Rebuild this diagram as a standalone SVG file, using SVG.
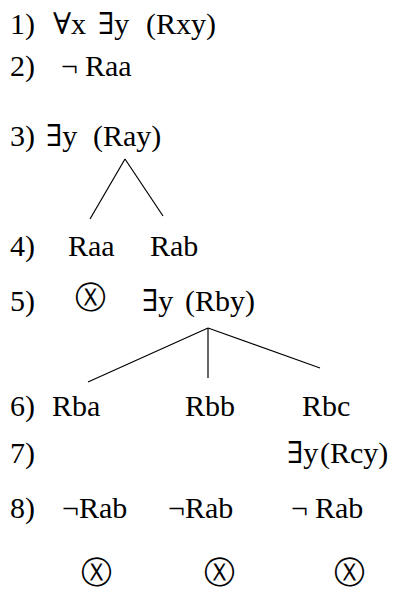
<svg xmlns="http://www.w3.org/2000/svg" width="405" height="589" viewBox="0 0 405 589">
<rect width="405" height="589" fill="#fff"/>
<g font-family="Liberation Serif, Times New Roman, Tinos, Noto Serif, DejaVu Serif, serif" font-size="30" fill="#000">
<g id="labels">
<text x="10" y="34">1)</text>
<text x="10" y="76">2)</text>
<text x="10" y="146">3)</text>
<text x="10" y="256">4)</text>
<text x="10" y="311">5)</text>
<text x="10" y="416">6)</text>
<text x="10" y="463">7)</text>
<text x="10" y="518">8)</text>
</g>
<g id="n1"><text x="53" y="34">∀x</text><text x="98" y="34">∃y</text><text x="146" y="34">(Rxy)</text></g>
<g id="n2"><text x="61" y="76">¬</text><text x="85" y="76">Raa</text></g>
<g id="n3"><text x="46" y="146">∃y</text><text x="93" y="146">(Ray)</text></g>
<g id="n4a"><text x="68" y="256">Raa</text></g>
<g id="n4b"><text x="150" y="256">Rab</text></g>
<g id="n5b"><text x="142" y="311">∃y</text><text x="185" y="311">(Rby)</text></g>
<g id="n6a"><text x="52" y="416">Rba</text></g>
<g id="n6b"><text x="185" y="416">Rbb</text></g>
<g id="n6c"><text x="302" y="416">Rbc</text></g>
<g id="n7c"><text x="287" y="463">∃y</text><text x="320" y="463">(Rcy)</text></g>
<g id="n8a"><text x="62" y="518">¬Rab</text></g>
<g id="n8b"><text x="168" y="518">¬Rab</text></g>
<g id="n8c"><text x="291" y="518">¬</text><text x="315" y="518">Rab</text></g>
</g>
<g font-family="DejaVu Sans, sans-serif" font-size="31" fill="#000">
<g id="n5a"><text x="75" y="308">Ⓧ</text></g>
<g id="x1"><text x="81" y="583">Ⓧ</text></g>
<g id="x2"><text x="204" y="583">Ⓧ</text></g>
<g id="x3"><text x="334" y="583">Ⓧ</text></g>
</g>
<g id="connectors" stroke="#000" stroke-width="1.2">
<line x1="125" y1="159" x2="90" y2="219"/>
<line x1="125" y1="159" x2="163" y2="216"/>
<line x1="208" y1="328" x2="88" y2="382"/>
<line x1="208" y1="328" x2="208" y2="378"/>
<line x1="208" y1="328" x2="320" y2="368"/>
</g>
</svg>
